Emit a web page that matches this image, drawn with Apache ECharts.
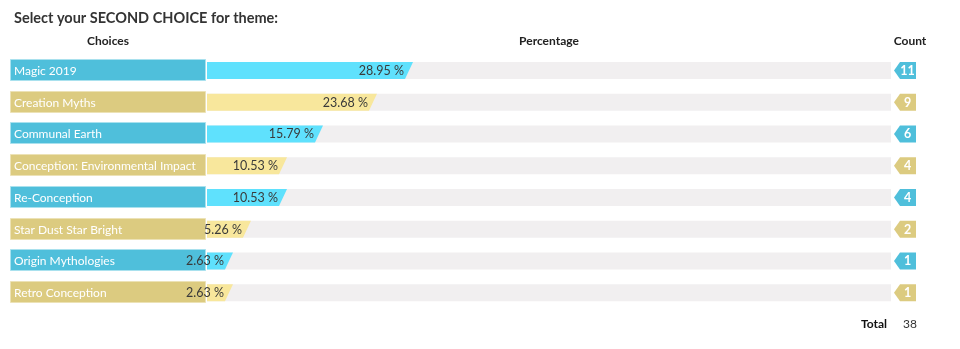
<!DOCTYPE html>
<html>
<head>
<meta charset="utf-8">
<script src="https://cdn.jsdelivr.net/npm/echarts@6/dist/echarts.min.js"></script>
<style>html,body{margin:0;padding:0;background:#fff;}#c{width:960px;height:349px;}</style>
</head>
<body>
<div id="c"></div>
<script>
const titleText = 'Select your SECOND CHOICE for theme:';
const categories = ['Magic 2019', 'Creation Myths', 'Communal Earth', 'Conception: Environmental Impact', 'Re-Conception', 'Star Dust Star Bright', 'Origin Mythologies', 'Retro Conception'];
const percentages = [28.95, 23.68, 15.79, 10.53, 10.53, 5.26, 2.63, 2.63];
const counts = [11, 9, 6, 4, 4, 2, 1, 1];
const total = 38;
const headers = ['Choices', 'Percentage', 'Count'];

const FONT = 'Lato, "Open Sans", sans-serif';
const boxColors = ['#4fbfdb', '#dccb80'];
const boxBorders = ['#a9e1ee', '#ece2b6'];
const barColors = ['#5fe1fd', '#f8e79c'];
const trackColor = '#f1eff0';

const chart = echarts.init(document.getElementById('c'));

function pctItem(params, api) {
  const v = api.value(0), idx = api.value(1);
  const s = api.coord([0, idx]);
  const e = api.coord([v, idx]);
  const h = 17;
  const top = s[1] - h / 2 + 0.5, bot = s[1] + h / 2 + 0.5;
  const c = idx % 2;
  return {
    type: 'group',
    children: [
      { type: 'polygon', shape: { points: [[s[0], top], [e[0] + 8, top], [e[0], bot], [s[0], bot]] }, style: { fill: barColors[c] } },
      { type: 'text', x: e[0] - 1, y: s[1] + 1, style: { text: v.toFixed(2) + ' %', fill: '#3a3a3a', font: '12.5px ' + FONT, align: 'right', verticalAlign: 'middle' }, z2: 10 }
    ]
  };
}

function trackItem(params, api) {
  const idx = api.value(1);
  const s = api.coord([0, idx]);
  const e = api.coord([100, idx]);
  const h = 17;
  return { type: 'rect', shape: { x: s[0], y: s[1] - h / 2 + 0.5, width: e[0] - s[0], height: h }, style: { fill: trackColor } };
}

function boxItem(params, api) {
  const idx = api.value(1);
  const s = api.coord([0, idx]);
  const c = idx % 2;
  return {
    type: 'group',
    children: [
      { type: 'rect', shape: { x: 10.5, y: Math.round(s[1] - 11) + 0.5, width: 195, height: 21 }, style: { fill: boxColors[c], stroke: boxBorders[c], lineWidth: 1 } },
      { type: 'text', x: 14, y: s[1] + 1, style: { text: categories[idx], fill: '#ffffff', font: '12px ' + FONT, verticalAlign: 'middle' } }
    ]
  };
}

function countItem(params, api) {
  const n = api.value(0), idx = api.value(1);
  const s = api.coord([0, idx]);
  const c = idx % 2;
  const x0 = 894, x1 = 916, top = s[1] - 8.5 + 0.5, bot = s[1] + 8.5 + 0.5;
  return {
    type: 'group',
    children: [
      { type: 'polygon', shape: { points: [[x0, s[1] + 0.5], [x0 + 6, top], [x1, top], [x1, bot], [x0 + 6, bot]] }, style: { fill: boxColors[c] } },
      { type: 'text', x: 907.5, y: s[1] + 1, style: { text: String(n), fill: '#ffffff', font: 'bold 12.5px ' + FONT, align: 'center', verticalAlign: 'middle' } }
    ]
  };
}

const idxs = categories.map((_, i) => i);

chart.setOption({
  animation: false,
  title: { text: titleText, left: 9, top: 6, textStyle: { fontFamily: FONT, fontSize: 14.5, fontWeight: 'bold', color: '#333' } },
  grid: { left: 207, right: 69, top: 54, height: 254 },
  xAxis: { type: 'value', min: 0, max: 100, show: false },
  yAxis: { type: 'category', data: categories, inverse: true, show: false },
  graphic: [
    { type: 'text', x: 108, y: 41, style: { text: headers[0], font: 'bold 12px ' + FONT, fill: '#222', align: 'center', verticalAlign: 'middle' } },
    { type: 'text', x: 549, y: 41, style: { text: headers[1], font: 'bold 12px ' + FONT, fill: '#222', align: 'center', verticalAlign: 'middle' } },
    { type: 'text', x: 910, y: 41, style: { text: headers[2], font: 'bold 12px ' + FONT, fill: '#222', align: 'center', verticalAlign: 'middle' } },
    { type: 'text', x: 887, y: 324, style: { text: 'Total', font: 'bold 12px ' + FONT, fill: '#111', align: 'right', verticalAlign: 'middle' } },
    { type: 'text', x: 903, y: 324, style: { text: String(total), font: '12px ' + FONT, fill: '#333', align: 'left', verticalAlign: 'middle' } }
  ],
  series: [
    { type: 'custom', renderItem: trackItem, data: idxs.map(i => [100, i]), encode: { x: 0, y: 1 }, z: 1 },
    { type: 'custom', renderItem: boxItem, data: idxs.map(i => [0, i]), encode: { x: 0, y: 1 }, z: 1 },
    { type: 'custom', renderItem: pctItem, data: percentages.map((v, i) => [v, i]), encode: { x: 0, y: 1 }, z: 3 },
    { type: 'custom', renderItem: countItem, data: counts.map((v, i) => [v, i]), encode: { x: 0, y: 1 }, z: 3 }
  ]
});
</script>
</body>
</html>
